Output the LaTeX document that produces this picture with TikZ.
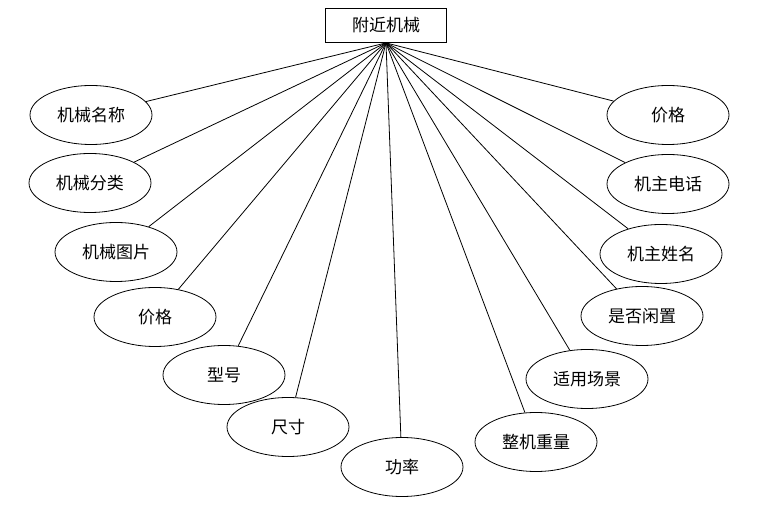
\documentclass[tikz,border=0pt]{standalone}
\usepackage{fontspec}
\newfontfamily\cjk{Noto Sans CJK SC}
\usetikzlibrary{shapes.geometric}
\tikzset{
  attr/.style={draw, ellipse, minimum width=122pt, minimum height=59pt, inner sep=0pt, line width=0.8pt, font=\cjk\fontsize{17}{17}\selectfont},
  ent/.style={draw, rectangle, minimum width=121pt, minimum height=34pt, inner sep=0pt, line width=0.8pt, font=\cjk\fontsize{17}{17}\selectfont},
  link/.style={line width=0.8pt}
}
\begin{document}
\begin{tikzpicture}[x=1pt,y=-1pt]
\useasboundingbox (0,0) rectangle (764,510);
\node[ent] (top) at (386,25.5) {附近机械};
\coordinate (hub) at (top.south);
\node[attr] (n1) at (91,115) {机械名称};
\node[attr] (n2) at (90,183) {机械分类};
\node[attr] (n3) at (116,252) {机械图片};
\node[attr] (n4) at (155,317) {价格};
\node[attr] (n5) at (224,375) {型号};
\node[attr] (n6) at (288,427) {尺寸};
\node[attr] (n7) at (402,467) {功率};
\node[attr] (n8) at (536,442) {整机重量};
\node[attr] (n9) at (587,379) {适用场景};
\node[attr] (n10) at (642,316) {是否闲置};
\node[attr] (n11) at (661,254) {机主姓名};
\node[attr] (n12) at (668,184) {机主电话};
\node[attr] (n13) at (668,115) {价格};
\foreach \n in {n1,n2,n3,n4,n5,n6,n7,n8,n9,n10,n11,n12,n13}
  \draw[link] (hub) -- (\n);
\end{tikzpicture}
\end{document}
